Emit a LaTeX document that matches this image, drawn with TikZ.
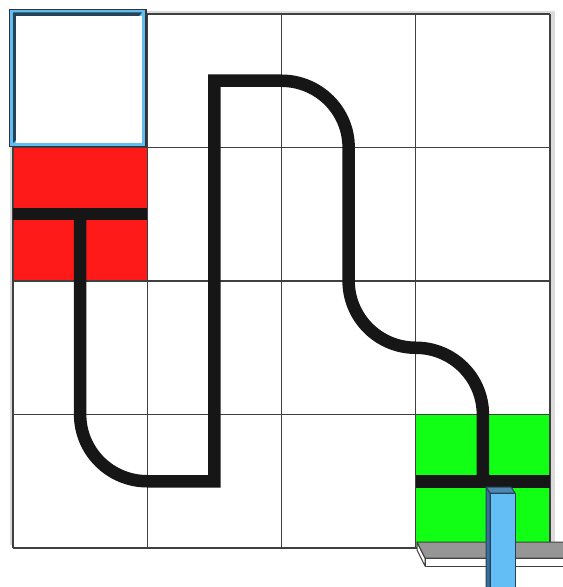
\documentclass[tikz,border=0pt]{standalone}
\definecolor{startblue}{RGB}{98,190,240}
\definecolor{startdark}{RGB}{38,66,86}
\definecolor{cellred}{RGB}{255,26,26}
\definecolor{cellgreen}{RGB}{16,255,20}
\definecolor{trackblack}{RGB}{22,22,22}
\definecolor{barblue}{RGB}{98,190,245}
\definecolor{barside}{RGB}{56,112,152}
\definecolor{bartop}{RGB}{78,136,176}
\definecolor{plategray}{RGB}{150,150,150}
\tikzset{gridline/.style={draw=black!75,line width=0.55pt},
  track/.style={draw=trackblack,line width=5.3pt},
  edge3d/.style={draw=black!75,line width=0.4pt,line join=round}}

\begin{document}
\begin{tikzpicture}[x=2cm,y=1.9888cm]
  \useasboundingbox (-0.0968,-0.2921) rectangle (4.0894,4.1049);
  % board with its shadow
  \begin{scope}[shift={(-0.0968,4.1049)},x=0.4239pt,y=-0.4239pt]
    \fill[black!14] (10,11) rectangle (555,545);
  \end{scope}
  \fill[white] (0,0) rectangle (4,4);
  \fill[cellred,draw=black!60] (0,2) rectangle (1,3);
  \fill[cellgreen,draw=black!60] (3,0) rectangle (4,1);
  \foreach \k in {0,...,4} {
    \draw[gridline] (\k,0) -- (\k,4);
    \draw[gridline] (0,\k) -- (4,\k);
  }
  % track
  \draw[track] (0,2.5) -- (1,2.5);
  \draw[track] (3,0.5) -- (4,0.5);
  \draw[track,line join=miter] (0.5,2.5) -- (0.5,1) arc (180:270:0.5) -- (1.5,0.5)
    -- (1.5,3.5) -- (2,3.5) arc (90:0:0.5) -- (2.5,2) arc (180:270:0.5)
    arc (90:0:0.5) -- (3.5,0.5);
  \begin{scope}[shift={(-0.0968,4.1049)},x=0.4239pt,y=-0.4239pt]
    % start square
    \fill[black!80] (9,9) rectangle (146.5,147);
    \fill[startblue] (10,10) rectangle (144.5,146);
    \fill[startdark] (13,12.5) -- (142,12.5) -- (139,16) -- (16,16) -- (16,140) -- (13,143) -- cycle;
    \fill[white] (16,16) rectangle (141.5,143);
    % plate
    \draw[edge3d,fill=white] (417,542) -- (425,558) -- (425,566) -- (417,550) -- cycle;
    \draw[edge3d,fill=white] (425,558) rectangle (575,566);
    \draw[edge3d,fill=plategray] (417,542) -- (575,542) -- (575,558) -- (425,558) -- cycle;
    % bar
    \draw[edge3d,draw=startdark,fill=barside] (486,487) -- (490,493) -- (490,600) -- (486,596) -- cycle;
    \draw[edge3d,draw=startdark,fill=bartop] (486,487) -- (511,487) -- (515,493) -- (490,493) -- cycle;
    \draw[edge3d,draw=startdark,fill=barblue] (490,493) rectangle (515,600);
  \end{scope}
\end{tikzpicture}
\end{document}
